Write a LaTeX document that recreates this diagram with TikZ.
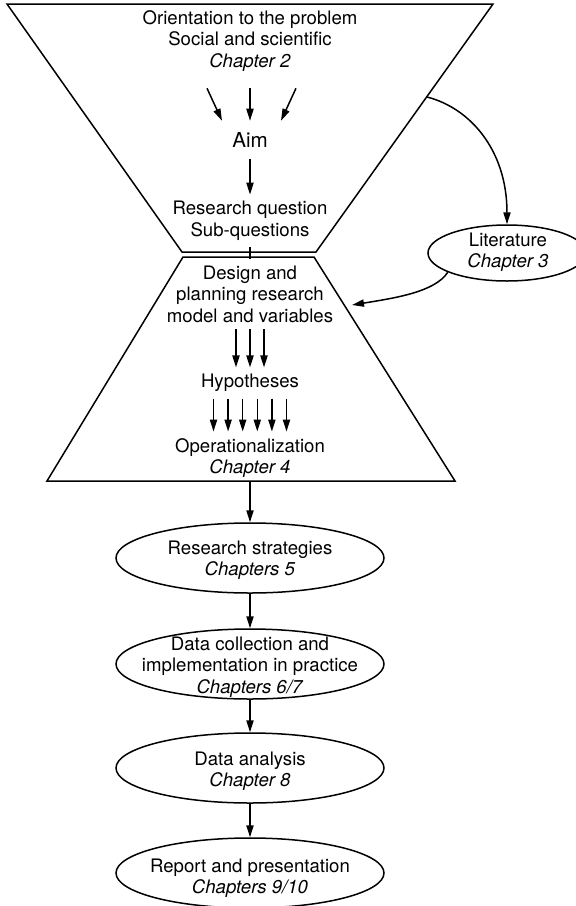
\documentclass[tikz,border=0pt]{standalone}
\usepackage{fontspec}
\setmainfont{TeX Gyre Heros}
\usetikzlibrary{arrows.meta,shapes.geometric}

\tikzset{
  txt/.style={align=center,inner sep=3pt,font=\fontsize{9.3}{10.8}\selectfont},
  stage/.style={draw,ellipse,minimum width=134pt,minimum height=35pt,inner sep=0pt},
  arr/.style={-{Triangle[length=6pt,width=3.6pt]}},
}

\begin{document}
\begin{tikzpicture}[x=0.5pt,y=-0.5pt,line width=0.75pt]
\useasboundingbox (0,0) rectangle (575,906);

% the two funnels
\draw (7,4) -- (493,4) -- (316,252) -- (182,252) -- cycle;
\draw (183,257) -- (314,257) -- (455,481) -- (47,481) -- cycle;
\coordinate (fedge) at (427,97);
\coordinate (dedge) at (352,305);
\coordinate (fbot) at (250,481);

% texts in the funnels
\node[txt] (orient) at (250,41) {Orientation to the problem\\Social and scientific\\\textit{Chapter 2}};
\node[txt,inner sep=5.5pt,font=\fontsize{10.3}{12}\selectfont] (aim) at (250,140) {Aim};
\node[txt] (rq) at (250,221) {Research question\\Sub-questions};
\node[txt] (design) at (250,294) {Design and\\planning research\\model and variables};
\node[txt] (hyp) at (250,383) {Hypotheses};
\node[txt] (oper) at (250,458) {Operationalization\\\textit{Chapter 4}};

% literature
\node[stage,minimum width=79pt,minimum height=28pt] (lit) at (507,253) {};
\node[txt] (litt) at (508,252) {Literature\\\textit{Chapter 3}};

% stages
\node[stage] (strat) at (250,558) {};
\node[txt] (stratt) at (250,560) {Research strategies\\\textit{Chapters 5}};
\node[stage] (coll) at (250,664) {};
\node[txt] (collt) at (250,667) {Data collection and\\implementation in practice\\\textit{Chapters 6/7}};
\node[stage] (anal) at (250,768) {};
\node[txt] (analt) at (250,771) {Data analysis\\\textit{Chapter 8}};
\node[stage] (rep) at (250,873) {};
\node[txt] (rept) at (250,878) {Report and presentation\\\textit{Chapters 9/10}};

% arrows
\foreach \d/\e in {-21.5/-14,0/0,23/15.5}
  \draw[arr] ([xshift=\d pt,yshift=-5pt]orient.south) -- ([xshift=\e pt]aim.north);
\draw[arr] (aim) -- (rq);
\draw (rq) -- (design);
\foreach \d in {-7,0,7}
  \draw[arr] ([xshift=\d pt]design.south) -- ([xshift=\d pt]hyp.north);
\foreach \d in {-18.25,-10.95,-3.65,3.65,10.95,18.25}
  \draw[arr] ([xshift=\d pt]hyp.south) -- ([xshift=\d pt]oper.north);

\draw[arr] (fedge) .. controls (470,108) and (507,150) .. (lit.north);
\draw[arr] (lit.198) .. controls (435,292) and (395,298) .. (dedge);
\draw[arr] (fbot) -- (strat);
\draw[arr] (strat) -- (coll);
\draw[arr] (coll) -- (anal);
\draw[arr] (anal) -- (rep);

\end{tikzpicture}
\end{document}
